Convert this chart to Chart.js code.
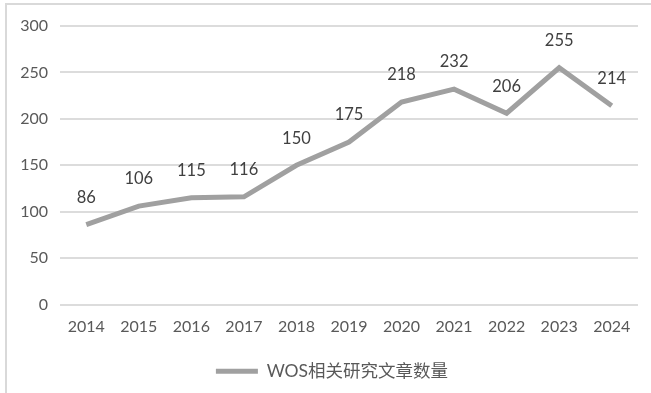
<!DOCTYPE html>
<html>
<head>
<meta charset="utf-8">
<script src="https://cdn.jsdelivr.net/npm/chart.js@4.4.1/dist/chart.umd.min.js"></script>
<style>
  html, body { margin: 0; padding: 0; background: #fff; overflow: hidden; }
  #frame { position: absolute; left: 5px; top: 3px; width: 700px; height: 450px;
           border-left: 2px solid #d9d9d9; border-top: 2px solid #d9d9d9; }
  #wrap { position: absolute; left: 0; top: 0; width: 651px; height: 393px; }
</style>
</head>
<body>
<div id="frame"></div>
<div id="wrap"><canvas id="chart"></canvas></div>
<script>
const years = ["2014", "2015", "2016", "2017", "2018", "2019", "2020", "2021", "2022", "2023", "2024"];
const papers = [86, 106, 115, 116, 150, 175, 218, 232, 206, 255, 214];
const seriesName = "WOS相关研究文章数量";

const fontFamily = "Lato, 'Noto Sans CJK SC', sans-serif";

// numbers above each point
const valueLabels = {
  id: "valueLabels",
  afterDatasetsDraw(chart) {
    const ctx = chart.ctx;
    const meta = chart.getDatasetMeta(0);
    ctx.save();
    ctx.font = "16.5px " + fontFamily;
    ctx.fillStyle = "#404040";
    ctx.textAlign = "center";
    ctx.textBaseline = "middle";
    meta.data.forEach((pt, i) => {
      ctx.fillText(String(papers[i]), pt.x, pt.y - 27);
    });
    ctx.restore();
  }
};

// legend sits a bit right of centre in the original
const legendNudge = {
  id: "legendNudge",
  afterLayout(chart) {
    chart.legend.left += 13;
    chart.legend.right += 13;
  }
};

new Chart(document.getElementById("chart"), {
  type: "line",
  data: {
    labels: years,
    datasets: [{
      label: seriesName,
      data: papers,
      borderColor: "#a0a0a0",
      backgroundColor: "#a0a0a0",
      borderWidth: 5,
      pointRadius: 0,
      pointStyle: "line",
      tension: 0,
      fill: false
    }]
  },
  options: {
    responsive: true,
    maintainAspectRatio: false,
    animation: false,
    layout: { padding: { top: 26, right: 13, bottom: 3, left: 0 } },
    plugins: {
      tooltip: { enabled: false },
      legend: {
        position: "bottom",
        labels: {
          usePointStyle: true,
          pointStyleWidth: 42,
          color: "#595959",
          font: { size: 17.5, family: fontFamily },
          padding: 9
        }
      }
    },
    scales: {
      x: {
        offset: true,
        grid: { display: false, drawTicks: false },
        border: { display: false },
        ticks: { color: "#595959", font: { size: 16, family: fontFamily }, padding: 13, maxRotation: 0 },
        afterFit: (scale) => { scale.height = 49; }
      },
      y: {
        min: 0,
        max: 300,
        ticks: { stepSize: 50, color: "#595959", font: { size: 16, family: fontFamily }, padding: 12 },
        grid: { color: "#dcdcdc", lineWidth: 2, drawTicks: false },
        border: { display: false },
        afterFit: (scale) => { scale.width = 60; }
      }
    }
  },
  plugins: [valueLabels, legendNudge]
});
</script>
</body>
</html>
